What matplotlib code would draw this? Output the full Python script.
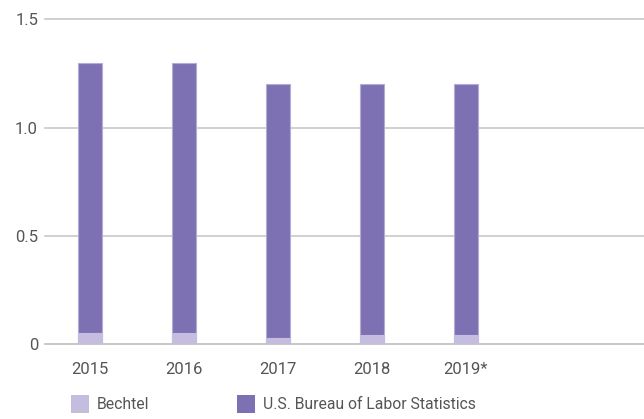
import numpy as np
import matplotlib.pyplot as plt
from matplotlib.patches import Patch

years = ['2015', '2016', '2017', '2018', '2019*']
bechtel = [0.05, 0.05, 0.03, 0.04, 0.04]
bls = [1.3, 1.3, 1.2, 1.2, 1.2]
yticks = [0, 0.5, 1.0, 1.5]
ylabels = ['0', '0.5', '1.0', '1.5']

c_bls = '#7e71b3'
c_bech = '#c4bddf'
c_edge = '#b4abd6'
c_txt = '#555555'

plt.rcParams['font.family'] = ['Roboto', 'DejaVu Sans']

fig = plt.figure(figsize=(6.44, 4.19), dpi=100)
ax = fig.add_axes([45/644, 75/419, 1 - 45/644, (344 - 19.5)/419])

x = np.arange(len(years))
w = 0.255
ax.bar(x, bls, width=w, color=c_bls, edgecolor=c_edge, linewidth=0.8, zorder=3)
ax.bar(x, bechtel, width=w, color=c_bech, edgecolor=c_bech, linewidth=0.8, zorder=4)

ax.set_xlim(-0.479, 5.894)
ax.set_ylim(0, 1.5)
ax.set_yticks(yticks)
ax.set_yticklabels(ylabels)
ax.set_xticks(x)
ax.set_xticklabels(years)
ax.tick_params(axis='both', length=0, labelsize=12, labelcolor=c_txt)
ax.tick_params(axis='x', pad=13)
ax.tick_params(axis='y', pad=5)
for s in ax.spines.values():
    s.set_visible(False)
for yv in yticks:
    ax.axhline(yv, color='#c8c8c8' if yv else '#bdbdbd', linewidth=1.2, zorder=1, clip_on=False)

handles = [Patch(facecolor=c_bech, edgecolor='none'), Patch(facecolor=c_bls, edgecolor='none')]
leg = fig.legend(handles, ['Bechtel', 'U.S. Bureau of Labor Statistics'], ncol=2,
                 loc='center left', bbox_to_anchor=(71/644, 1 - 404/419),
                 frameon=False, fontsize=11.3, handlelength=1.15, handleheight=1.47,
                 handletextpad=0.51, columnspacing=5.6, borderaxespad=0, borderpad=0)
for t in leg.get_texts():
    t.set_color(c_txt)

fig.savefig('out.png', dpi=100)
